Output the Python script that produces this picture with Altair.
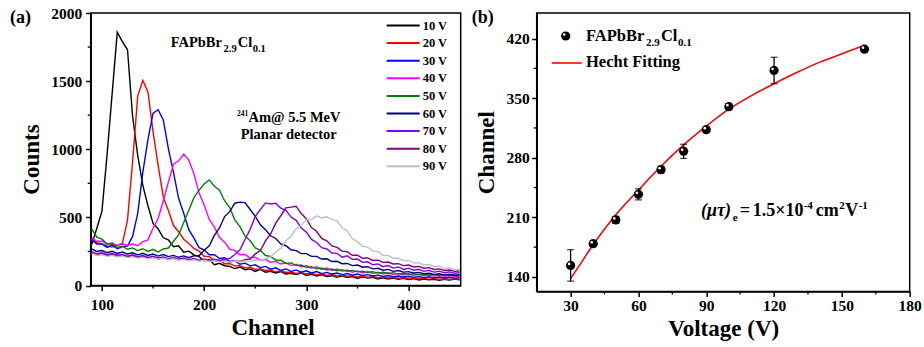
import altair as alt
import pandas as pd

FONT = "Liberation Serif"

# ---------------- Panel (a): pulse-height spectra ----------------
channels = list(range(90, 451, 5))
series_labels = ["10 V", "20 V", "30 V", "40 V", "50 V", "60 V", "70 V", "80 V", "90 V"]
series_colors = ["#000000", "#ff0000", "#0000ff", "#ff00ff", "#008000",
                 "#000080", "#8000ff", "#800080", "#c0c0c0"]

counts_10V = [300, 420, 545, 960, 1410, 1860, 1790, 1730, 1240, 955,
              735, 585, 455, 415, 350, 335, 285, 292, 245, 252,
              225, 212, 182, 190, 152, 163, 145, 140, 124, 136,
              116, 122, 103, 118, 98, 104, 92, 102, 85, 90,
              80, 92, 74, 82, 70, 79, 66, 72, 60, 71,
              58, 66, 52, 63, 55, 60, 47, 57, 48, 55,
              45, 52, 43, 50, 40, 48, 41, 45, 38, 46,
              40, 47, 42]
counts_20V = [345, 315, 305, 290, 282, 295, 308, 480, 910, 1390,
              1505, 1420, 1130, 880, 650, 550, 440, 395, 340, 308,
              272, 252, 215, 212, 184, 186, 160, 160, 144, 146,
              128, 134, 118, 122, 110, 114, 100, 108, 96, 99,
              89, 95, 84, 90, 78, 86, 74, 81, 70, 76,
              68, 72, 63, 70, 60, 66, 57, 64, 55, 60,
              53, 58, 51, 56, 49, 54, 47, 52, 46, 50,
              45, 49, 47]
counts_30V = [335, 305, 305, 280, 296, 270, 285, 290, 360, 530,
              830, 1070, 1265, 1290, 1215, 1005, 830, 640, 530, 410,
              348, 278, 262, 226, 226, 198, 204, 176, 182, 156,
              164, 144, 152, 130, 140, 120, 130, 110, 122, 104,
              114, 98, 108, 92, 102, 87, 96, 84, 92, 80,
              88, 76, 84, 73, 80, 70, 76, 67, 73, 64,
              70, 62, 68, 60, 66, 58, 64, 56, 62, 55,
              60, 54, 58]
counts_40V = [350, 325, 325, 305, 312, 295, 304, 296, 304, 292,
              322, 335, 420, 492, 620, 760, 890, 915, 965, 920,
              820, 680, 590, 485, 428, 352, 318, 266, 258, 226,
              228, 202, 208, 184, 192, 170, 178, 158, 166, 146,
              156, 136, 146, 126, 137, 118, 128, 110, 121, 104,
              113, 98, 107, 92, 102, 88, 97, 84, 93, 80,
              89, 77, 86, 74, 83, 71, 80, 69, 77, 67,
              74, 65, 70]
counts_50V = [415, 355, 340, 305, 306, 280, 288, 266, 276, 256,
              270, 250, 266, 246, 268, 275, 325, 372, 462, 552,
              645, 698, 745, 775, 728, 700, 622, 572, 482, 432,
              362, 328, 276, 258, 220, 214, 186, 185, 162, 166,
              146, 150, 132, 138, 122, 128, 114, 121, 108, 116,
              104, 111, 100, 105, 95, 102, 91, 97, 88, 94,
              84, 90, 81, 87, 78, 84, 76, 80, 73, 78,
              71, 76, 70]
counts_60V = [268, 250, 257, 241, 251, 235, 246, 231, 240, 225,
              236, 221, 231, 216, 227, 212, 221, 207, 217, 204,
              218, 218, 258, 292, 368, 422, 506, 542, 604, 612,
              608, 558, 508, 445, 410, 365, 345, 305, 292, 262,
              256, 234, 234, 214, 214, 194, 196, 176, 178, 160,
              162, 146, 150, 134, 138, 122, 126, 112, 118, 104,
              110, 98, 102, 92, 96, 86, 90, 82, 86, 78,
              82, 75, 79]
counts_70V = [248, 234, 240, 226, 235, 222, 228, 216, 225, 212,
              220, 206, 215, 202, 210, 197, 206, 194, 202, 190,
              198, 186, 195, 183, 192, 182, 194, 198, 228, 262,
              338, 412, 508, 558, 606, 598, 604, 568, 552, 502,
              478, 422, 392, 338, 316, 278, 268, 238, 236, 208,
              218, 192, 194, 170, 174, 152, 158, 138, 146, 128,
              136, 118, 127, 112, 119, 104, 112, 98, 105, 94,
              100, 90, 94]
counts_80V = [238, 224, 232, 218, 227, 214, 222, 210, 218, 205,
              214, 201, 209, 196, 205, 192, 201, 189, 197, 185,
              193, 181, 190, 178, 186, 175, 182, 172, 180, 176,
              190, 194, 232, 256, 328, 378, 458, 512, 570, 575,
              582, 528, 490, 425, 398, 345, 328, 290, 280, 252,
              248, 222, 222, 200, 202, 184, 186, 170, 172, 158,
              160, 146, 150, 136, 140, 127, 131, 118, 122, 110,
              114, 104, 106]
counts_90V = [233, 220, 226, 214, 221, 209, 216, 205, 212, 201,
              208, 196, 204, 193, 200, 189, 196, 186, 192, 182,
              189, 179, 186, 176, 182, 173, 180, 172, 180, 173,
              182, 177, 187, 183, 196, 210, 246, 274, 328, 362,
              418, 442, 482, 484, 512, 496, 504, 486, 472, 424,
              402, 344, 322, 288, 282, 252, 250, 222, 220, 200,
              200, 182, 184, 166, 168, 151, 154, 138, 142, 126,
              130, 116, 120]

all_counts = [counts_10V, counts_20V, counts_30V, counts_40V, counts_50V,
              counts_60V, counts_70V, counts_80V, counts_90V]

xa_ticks = [100, 200, 300, 400]
xa_minor = [150, 250, 350]
ya_ticks = [0, 500, 1000, 1500, 2000]
ya_minor = [250, 750, 1250, 1750]

# ---------------- Panel (b): peak channel vs bias ----------------
voltage = [30, 40, 50, 60, 70, 80, 90, 100, 120, 160]
peak_channel = [153.5, 179, 207, 237, 266, 287.5, 313, 340, 382.5, 407.5]
peak_error = [18.5, 3, 4, 6.5, 4, 8.3, 3, 3.5, 15.5, 3]

fit_voltage = [30, 35, 40, 50, 60, 70, 80, 90, 100, 110, 120, 130, 140, 150, 160]
fit_channel = [138, 158, 178, 213, 242, 270, 295, 317, 337, 353, 367, 380, 392, 402, 412]

xb_ticks = [30, 60, 90, 120, 150, 180]
xb_minor = [45, 75, 105, 135, 165]
yb_ticks = [140, 210, 280, 350, 420]
yb_minor = [175, 245, 315, 385]

# ---------------- tables ----------------
rows = []
for lab, vals in zip(series_labels, all_counts):
    for c, v in zip(channels, vals):
        rows.append({"channel": c, "counts": v, "bias": lab})
spec_df = pd.DataFrame(rows)

pts_df = pd.DataFrame({"voltage": voltage, "channel": peak_channel, "err": peak_error})
pts_df["lo"] = pts_df["channel"] - pts_df["err"]
pts_df["hi"] = pts_df["channel"] + pts_df["err"]
fit_df = pd.DataFrame({"voltage": fit_voltage, "channel": fit_channel})
one = pd.DataFrame({"k": [0]})

A_W, A_H = 370, 272.5
B_W, B_H = 373, 278.4

AX = dict(grid=False, domainColor="black", domainWidth=1.5, tickColor="black",
          tickWidth=1.5, tickSize=5, labelFont=FONT, labelFontSize=15.5,
          labelFontWeight="bold", labelColor="black", labelFlush=False, format="d",
          titleFont=FONT, titleFontSize=23, titleFontWeight="bold",
          titleColor="black", titleBaseline="alphabetic", titleAlign="center")

xa_axis = alt.Axis(values=xa_ticks, title="Channel", labelPadding=7,
                   titleX=181.8, titleY=49.3, **AX)
ya_axis = alt.Axis(values=ya_ticks, title="Counts", labelPadding=4,
                   titleX=-52.4, titleY=146, titleAngle=270, **AX)
xb_axis = alt.Axis(values=xb_ticks, title="Voltage (V)", labelPadding=2,
                   titleX=B_W / 2, titleY=44.3, **AX)
yb_axis = alt.Axis(values=yb_ticks, title="Channel", labelPadding=2.4,
                   titleX=-43.4, titleY=B_H / 2, titleAngle=270, **AX)


def txt(s, x, y, size, style="normal"):
    return alt.Chart(one).mark_text(
        text=s, font=FONT, fontSize=size, fontWeight="bold", fontStyle=style,
        align="left", baseline="alphabetic", color="black"
    ).encode(x=alt.value(x), y=alt.value(y))


# ---------------- panel (a) ----------------
xa_scale = alt.Scale(domain=[89, 451], nice=False, zero=False)
ya_scale = alt.Scale(domain=[0, 2000], nice=False)

lines = alt.Chart(spec_df).mark_line(strokeWidth=1.4).encode(
    x=alt.X("channel:Q", scale=xa_scale, axis=xa_axis),
    y=alt.Y("counts:Q", scale=ya_scale, axis=ya_axis),
    color=alt.Color("bias:N", sort=series_labels,
                    scale=alt.Scale(domain=series_labels, range=series_colors),
                    legend=alt.Legend(orient="none", legendX=306, legendY=6, title=None,
                                      symbolType="M-3,0H3", symbolSize=121,
                                      symbolStrokeWidth=2, labelFont=FONT,
                                      labelFontSize=12.5, labelFontWeight="bold",
                                      labelColor="black", labelOffset=13,
                                      rowPadding=4.6, padding=0)),
)

minor_xa = alt.Chart(pd.DataFrame({"channel": xa_minor})).mark_rule(color="black", strokeWidth=1.3).encode(
    x=alt.X("channel:Q", scale=xa_scale, axis=xa_axis), y=alt.value(A_H), y2=alt.value(A_H + 3))
minor_ya = alt.Chart(pd.DataFrame({"counts": ya_minor})).mark_rule(color="black", strokeWidth=1.3).encode(
    y=alt.Y("counts:Q", scale=ya_scale, axis=ya_axis), x=alt.value(0), x2=alt.value(-3))

panel_a = alt.layer(
    lines, minor_xa, minor_ya,
    txt("(a)", -80.7, 10, 18),
    txt("FAPbBr", 80, 33.7, 14.5),
    txt("2.9", 132.9, 38.5, 10.5),
    txt("Cl", 147, 33.7, 14.5),
    txt("0.1", 162, 38.5, 10.5),
    txt("241", 146.3, 103, 7.5),
    txt("Am@ 5.5 MeV", 157.8, 108.5, 14.5),
    txt("Planar detector", 150, 126, 14.5),
).properties(width=A_W, height=A_H)

# ---------------- panel (b) ----------------
xb_scale = alt.Scale(domain=[15, 180], nice=False, zero=False)
yb_scale = alt.Scale(domain=[123, 450], nice=False, zero=False)

fit = alt.Chart(fit_df).mark_line(color="#ff0000", strokeWidth=1.6, interpolate="monotone").encode(
    x=alt.X("voltage:Q", scale=xb_scale, axis=xb_axis),
    y=alt.Y("channel:Q", scale=yb_scale, axis=yb_axis),
)
bars = alt.Chart(pts_df).mark_rule(color="black", strokeWidth=1.3).encode(
    x=alt.X("voltage:Q", scale=xb_scale, axis=xb_axis),
    y=alt.Y("lo:Q", scale=yb_scale, axis=yb_axis), y2="hi:Q")
cap_lo = alt.Chart(pts_df).mark_tick(color="black", thickness=1.3, size=7, orient="horizontal").encode(
    x=alt.X("voltage:Q", scale=xb_scale, axis=xb_axis),
    y=alt.Y("lo:Q", scale=yb_scale, axis=yb_axis))
cap_hi = alt.Chart(pts_df).mark_tick(color="black", thickness=1.3, size=7, orient="horizontal").encode(
    x=alt.X("voltage:Q", scale=xb_scale, axis=xb_axis),
    y=alt.Y("hi:Q", scale=yb_scale, axis=yb_axis))
balls = alt.Chart(pts_df).mark_point(filled=True, color="black", size=85, opacity=1).encode(
    x=alt.X("voltage:Q", scale=xb_scale, axis=xb_axis),
    y=alt.Y("channel:Q", scale=yb_scale, axis=yb_axis))
shine = alt.Chart(pts_df).mark_point(filled=True, color="white", size=7, opacity=1,
                                     xOffset=-1.5, yOffset=-1.5).encode(
    x=alt.X("voltage:Q", scale=xb_scale, axis=xb_axis),
    y=alt.Y("channel:Q", scale=yb_scale, axis=yb_axis))
minor_xb = alt.Chart(pd.DataFrame({"voltage": xb_minor})).mark_rule(color="black", strokeWidth=1.3).encode(
    x=alt.X("voltage:Q", scale=xb_scale, axis=xb_axis), y=alt.value(B_H), y2=alt.value(B_H + 3))
minor_yb = alt.Chart(pd.DataFrame({"channel": yb_minor})).mark_rule(color="black", strokeWidth=1.3).encode(
    y=alt.Y("channel:Q", scale=yb_scale, axis=yb_axis), x=alt.value(0), x2=alt.value(-3))

leg_ball = alt.Chart(one).mark_point(filled=True, color="black", size=85, opacity=1).encode(
    x=alt.value(29), y=alt.value(23))
leg_shine = alt.Chart(one).mark_point(filled=True, color="white", size=7, opacity=1).encode(
    x=alt.value(27.5), y=alt.value(21.5))
leg_line = alt.Chart(one).mark_rule(color="#ff0000", strokeWidth=1.6).encode(
    x=alt.value(15), x2=alt.value(45), y=alt.value(50))

panel_b = alt.layer(
    fit, bars, cap_lo, cap_hi, balls, shine, minor_xb, minor_yb,
    leg_ball, leg_shine, leg_line,
    txt("(b)", -65, 9.7, 18),
    txt("FAPbBr", 49.3, 28.4, 16.5),
    txt("2.9", 109.4, 33.4, 11),
    txt("Cl", 124.2, 28.4, 16.5),
    txt("0.1", 141.2, 33.4, 11),
    txt("Hecht Fitting", 49.3, 54.4, 16.5),
    txt("(μτ)", 164.3, 203.4, 18, "italic"),
    txt("e", 196, 207.5, 11),
    txt("=", 203, 203.4, 18),
    txt("1.5×10", 216, 203.4, 18),
    txt("-4", 267, 196, 11),
    txt("cm", 279, 203.4, 18),
    txt("2", 302.5, 196, 11),
    txt("V", 308.5, 203.4, 18),
    txt("-1", 322, 196, 11),
).properties(width=B_W, height=B_H)

chart = alt.hconcat(panel_a, panel_b, spacing=76, bounds="flush").properties(
    autosize=alt.AutoSizeParams(type="none"),
    padding={"left": 90.7, "top": 13, "right": 924 - 90.7, "bottom": 347 - 13},
    background="white",
).configure_view(stroke="black", strokeWidth=1.5)

chart.save("out.html", embed_options={"renderer": "svg", "actions": False})
